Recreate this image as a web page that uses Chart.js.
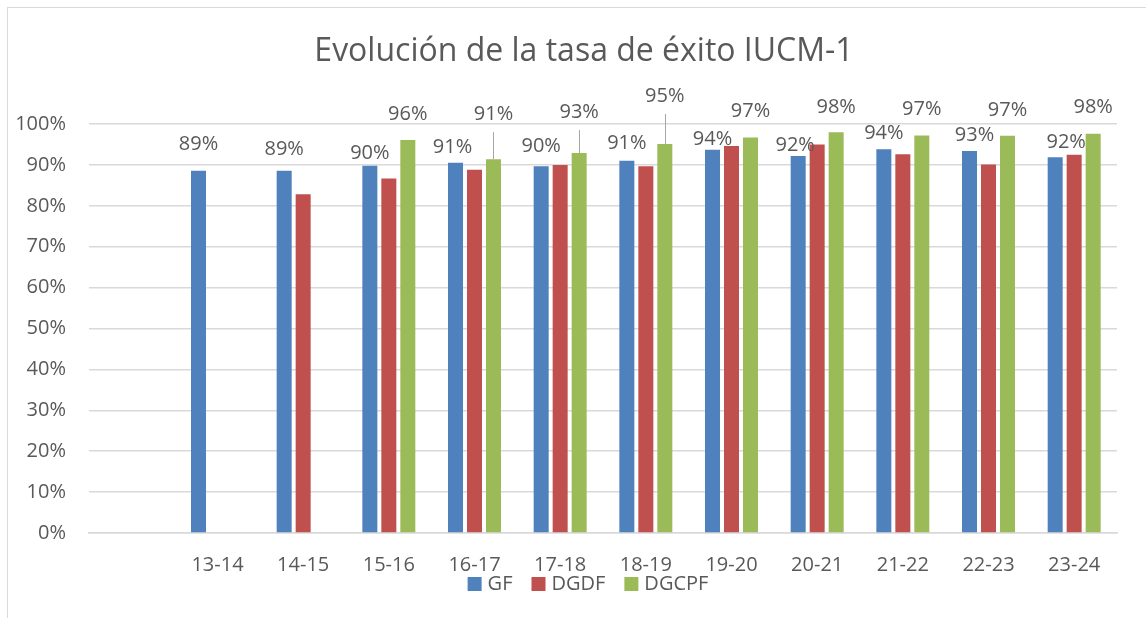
<!DOCTYPE html>
<html>
<head>
<meta charset="utf-8">
<script src="https://cdn.jsdelivr.net/npm/chart.js@4/dist/chart.umd.min.js"></script>
<style>
  html, body { margin: 0; padding: 0; background: #ffffff; overflow: hidden; }
  #wrap { position: relative; width: 1146px; height: 618px; }
  #frame { position: absolute; left: 7px; top: 7px; width: 2000px; height: 2000px; border: 1.5px solid #d9d9d9; box-sizing: border-box; }
  canvas { position: absolute; left: 0; top: 0; }
</style>
</head>
<body>
<div id="wrap">
  <div id="frame"></div>
  <canvas id="c" width="1146" height="618"></canvas>
</div>
<script>
// ---- data ----
const titleText = 'Evolución de la tasa de éxito IUCM-1';
const categories = ['', '13-14', '14-15', '15-16', '16-17', '17-18', '18-19', '19-20', '20-21', '21-22', '22-23', '23-24'];
const seriesNames = ['GF', 'DGDF', 'DGCPF'];
const gfValues    = [null, 88.6, 88.6, 89.8, 90.5, 89.7, 91.0, 93.7, 92.2, 93.8, 93.4, 91.9];
const dgdfValues  = [null, null, 82.8, 86.7, 88.8, 90.0, 89.7, 94.6, 95.0, 92.6, 90.1, 92.5];
const dgcpfValues = [null, null, null, 96.1, 91.4, 92.9, 95.1, 96.7, 98.0, 97.2, 97.1, 97.6];
const yTickValues = [0, 10, 20, 30, 40, 50, 60, 70, 80, 90, 100];

// ---- label placement (pixel offsets from bar top, as in the reference) ----
const gfLabelDx    = [0, 0, 0, 0, -3, 0, 0, 0, -3, 0, 5, 11];
const gfLabelDy    = [0, 26, 21, 12, 16, 20, 18, 10, 11, 16, 16, 15];
const dgcpfLabelDx = [0, 0, 0, 0, 0, 0, 0, 0, 0, 0, 0, 0];
const dgcpfLabelDy = [0, 0, 0, 26, 45, 41, 48, 26, 25, 26, 26, 27];

const colors = ['#4f81bd', '#c0504d', '#9bbb59'];
const textColor = '#595959';
const gridColor = '#d9d9d9';
const FONT = "'Open Sans', sans-serif";

const decorPlugin = {
  id: 'decor',
  afterDraw(chart) {
    const ctx = chart.ctx;
    ctx.save();
    // title
    ctx.fillStyle = textColor;
    ctx.font = '32px ' + FONT;
    ctx.textAlign = 'center';
    ctx.textBaseline = 'middle';
    ctx.fillText(titleText, 584, 52);

    // data labels
    ctx.font = '20px ' + FONT;
    const labelSets = [
      { ds: 0, dx: gfLabelDx, dy: gfLabelDy },
      { ds: 2, dx: dgcpfLabelDx, dy: dgcpfLabelDy }
    ];
    labelSets.forEach(set => {
      const meta = chart.getDatasetMeta(set.ds);
      const vals = chart.data.datasets[set.ds].data;
      meta.data.forEach((bar, i) => {
        const v = vals[i];
        if (v === null || v === undefined) return;
        const x = bar.x + set.dx[i];
        const y = bar.y - set.dy[i];
        ctx.fillStyle = textColor;
        ctx.fillText(Math.round(v) + '%', x, y);
        if (set.dy[i] > 35) {
          ctx.strokeStyle = '#a6a6a6';
          ctx.lineWidth = 1;
          ctx.beginPath();
          ctx.moveTo(Math.round(bar.x) + 0.5, y + 18);
          ctx.lineTo(Math.round(bar.x) + 0.5, bar.y);
          ctx.stroke();
        }
      });
    });

    // legend
    ctx.font = '20px ' + FONT;
    ctx.textAlign = 'left';
    const box = 14, gapText = 6, gapItem = 19;
    const widths = seriesNames.map(n => ctx.measureText(n).width);
    let total = 0;
    widths.forEach((w, i) => { total += box + gapText + w + (i < widths.length - 1 ? gapItem : 0); });
    let x = 588 - total / 2;
    const cy = 584;
    seriesNames.forEach((n, i) => {
      ctx.fillStyle = colors[i];
      ctx.fillRect(x, cy - box / 2, box, box);
      ctx.fillStyle = textColor;
      ctx.fillText(n, x + box + gapText, cy);
      x += box + gapText + widths[i] + gapItem;
    });
    ctx.restore();
  }
};

new Chart(document.getElementById('c'), {
  type: 'bar',
  data: {
    labels: categories,
    datasets: [
      { label: seriesNames[0], data: gfValues, backgroundColor: colors[0] },
      { label: seriesNames[1], data: dgdfValues, backgroundColor: colors[1] },
      { label: seriesNames[2], data: dgcpfValues, backgroundColor: colors[2] }
    ]
  },
  options: {
    responsive: false,
    animation: false,
    devicePixelRatio: 1,
    layout: { padding: { left: 0, right: 29, top: 124, bottom: 0 } },
    datasets: { bar: { categoryPercentage: 0.665, barPercentage: 0.79 } },
    plugins: {
      legend: { display: false },
      title: { display: false },
      tooltip: { enabled: false }
    },
    scales: {
      x: {
        grid: { display: false },
        border: { display: true, color: gridColor, width: 1.5 },
        ticks: { color: textColor, font: { family: FONT, size: 20 }, padding: 12, maxRotation: 0, autoSkip: false },
        afterFit(s) { s.height = 85; }
      },
      y: {
        min: 0, max: 100,
        afterBuildTicks(s) { s.ticks = yTickValues.map(v => ({ value: v })); },
        grid: { color: gridColor, lineWidth: 1.5, drawTicks: false },
        border: { display: false },
        ticks: { color: textColor, font: { family: FONT, size: 20 }, padding: 23, callback: v => v + '%' },
        afterFit(s) { s.width = 89; }
      }
    }
  },
  plugins: [decorPlugin]
});
</script>
</body>
</html>
